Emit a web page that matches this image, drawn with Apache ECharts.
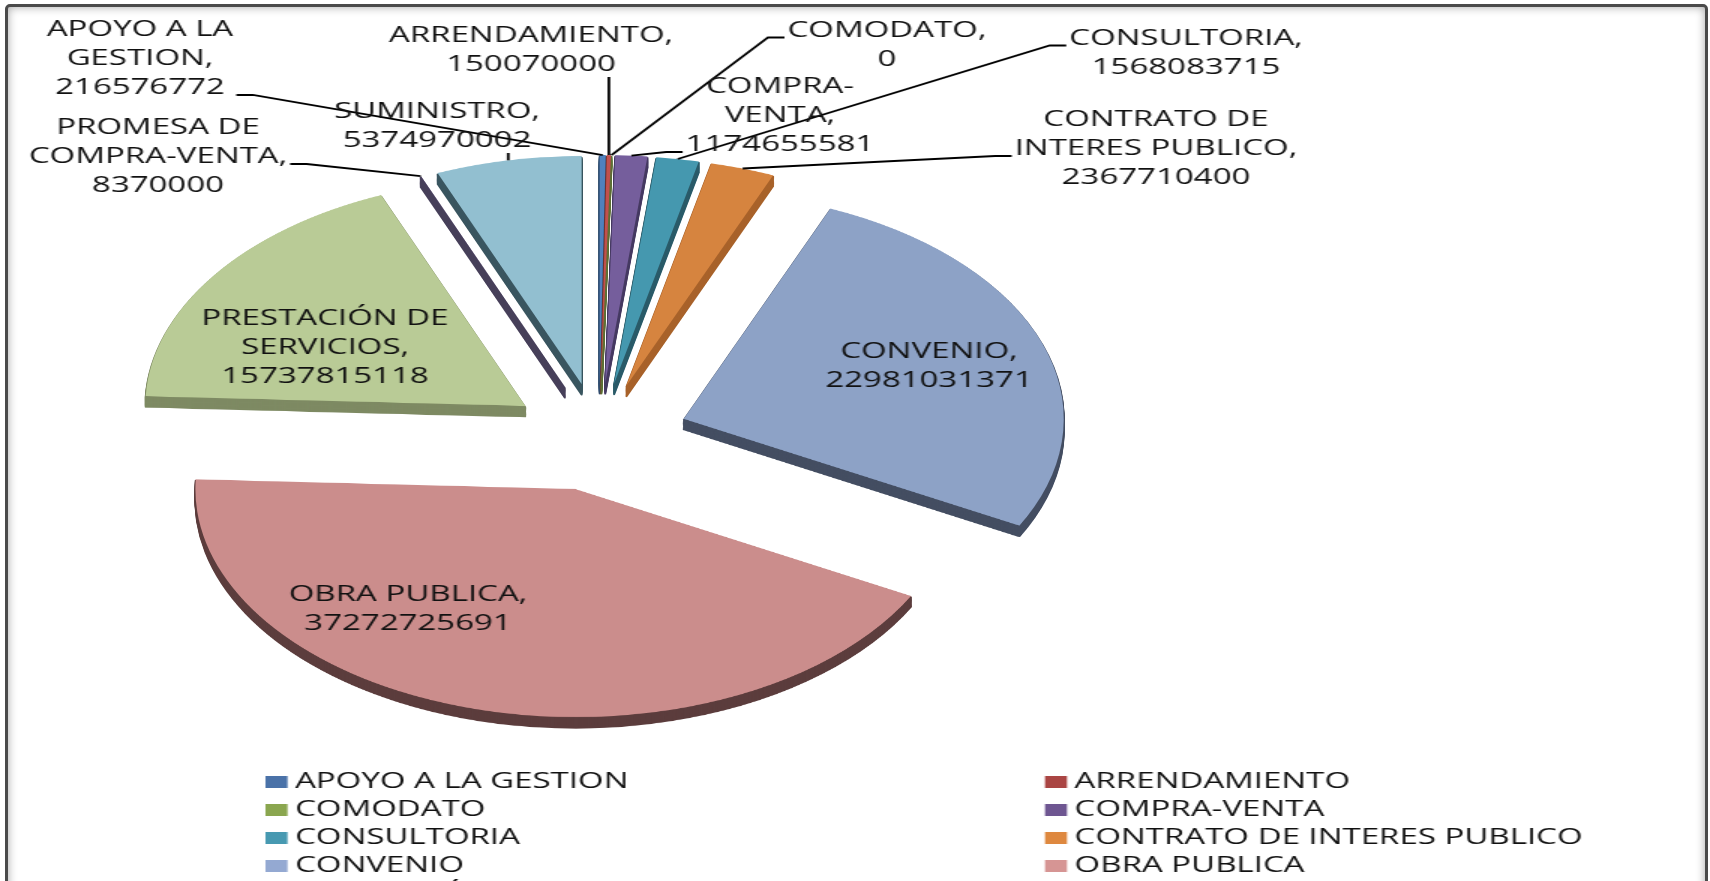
<!DOCTYPE html>
<html><head><meta charset="utf-8">
<script src="https://cdn.jsdelivr.net/npm/echarts@6/dist/echarts.min.js"></script>
<style>
html,body{margin:0;padding:0;width:1710px;height:881px;overflow:hidden;background:#fff;}
#frame{position:absolute;left:5px;top:4px;width:1703px;height:920px;border:3px solid #4a4a4a;border-radius:5px;box-sizing:border-box;box-shadow:inset 0 0 10px rgba(0,0,0,0.35);}
#pie{position:absolute;left:0;top:-113px;width:1710px;height:1100px;transform:scaleY(0.6);transform-origin:50% 50%;}
#labels{position:absolute;left:0;top:0;width:1140px;height:881px;transform:scaleX(1.5);transform-origin:0 0;}
</style></head><body>
<div id="frame"></div><div id="pie"></div><div id="labels"></div>
<script>
// ---- data ----
const categories = ['APOYO A LA GESTION','ARRENDAMIENTO','COMODATO','COMPRA-VENTA','CONSULTORIA','CONTRATO DE INTERES PUBLICO','CONVENIO','OBRA PUBLICA','PRESTACIÓN DE SERVICIOS','PROMESA DE COMPRA-VENTA','SUMINISTRO'];
const values = [216576772,150070000,0,1174655581,1568083715,2367710400,22981031371,37272725691,15737815118,8370000,5374970002];
const labelNames = ['APOYO A LA\nGESTION','ARRENDAMIENTO','COMODATO','COMPRA-\nVENTA','CONSULTORIA','CONTRATO DE\nINTERES PUBLICO','CONVENIO','OBRA PUBLICA','PRESTACIÓN DE\nSERVICIOS','PROMESA DE\nCOMPRA-VENTA','SUMINISTRO'];

// ---- styles ----
const topColors  = ['#4F81BD','#C0504D','#9BBB59','#755E9C','#4598AF','#D6843F','#8DA2C6','#CB8D8C','#B9CB96','#5F4B7A','#92BFD0'];
const sideColors = ['#2F4D71','#73302E','#5D7035','#463A62','#2A5B69','#A8622A','#444E62','#5C3D3D','#7E8A63','#47405A','#3A5660'];
const legendColors = ['#4A72A8','#AA4543','#8AA64F','#6E5691','#4799B1','#DE883F','#94A9D2','#D69594','#B9CD96','#5F4B7A','#92C3D3'];
const FONT = 'Open Sans';
const SX = 1.5;                       // horizontal stretch of the text layer
const GEO = {cx:599, cy:437, r:380, off:90, k:0.6};   // page geometry of the tilted pie
const labelSpots = {
  'APOYO A LA GESTION': {at:[140,59], side:'R', row:3},
  'ARRENDAMIENTO': {at:[531,50], side:'B'},
  'COMODATO': {at:[887,45], side:'L', row:1},
  'COMPRA-VENTA': {at:[780,116], side:'L', row:3},
  'CONSULTORIA': {at:[1186,53], side:'L', row:1},
  'CONTRATO DE INTERES PUBLICO': {at:[1156,149], side:'L', row:2},
  'CONVENIO': {at:[929,366], side:'in'},
  'OBRA PUBLICA': {at:[408,609], side:'in'},
  'PRESTACIÓN DE SERVICIOS': {at:[325,348], side:'in'},
  'PROMESA DE COMPRA-VENTA': {at:[158,157], side:'R', row:2},
  'SUMINISTRO': {at:[437,126], side:'B'}
};

// ---- tilted pie (drawn in a vertically squashed layer) ----
const pieChart = echarts.init(document.getElementById('pie'));
const PC = {cx:599, cy:550};
const depthSteps = 9, stepPx = 2;
const pieSeries = [];
function pieData(colors, border){
  return categories.map((n,i)=>({name:n, value:values[i], selected:true,
    itemStyle:{color:colors[i], borderColor:colors[i], borderWidth:border}}));
}
for (let j = depthSteps; j >= 1; j--) {
  pieSeries.push({type:'pie', center:[PC.cx, PC.cy + j*stepPx], radius:GEO.r, startAngle:90, clockwise:true,
    selectedMode:'multiple', selectedOffset:GEO.off, silent:true, animation:false, avoidLabelOverlap:false,
    label:{show:false}, labelLine:{show:false}, emphasis:{disabled:true},
    data:pieData(sideColors, 2)});
}
pieSeries.push({type:'pie', center:[PC.cx, PC.cy], radius:GEO.r, startAngle:90, clockwise:true,
  selectedMode:'multiple', selectedOffset:GEO.off, silent:true, animation:false, avoidLabelOverlap:false,
  label:{show:false}, labelLine:{show:false}, emphasis:{disabled:true},
  data:pieData(topColors, 0)});
pieChart.setOption({animation:false, series:pieSeries});

// ---- labels + legend (drawn in a horizontally stretched layer) ----
const labelChart = echarts.init(document.getElementById('labels'));
const LC = [GEO.cx/SX, GEO.cy];
const LH = 29;
function midDir(i){
  const total = values.reduce((a,b)=>a+b,0);
  let acc = 0; for (let j=0;j<i;j++) acc += values[j];
  const a = (acc + values[i]/2)/total*2*Math.PI;
  return [Math.sin(a), -Math.cos(a)];
}
function layoutFn(params){
  const i = params.dataIndex;
  const spot = labelSpots[categories[i]];
  if (!spot) return {};
  const w = params.labelRect.width, h = params.labelRect.height;
  const X = spot.at[0]/SX, Y = spot.at[1];
  const res = {x:X, y:Y, align:'center', verticalAlign:'middle'};
  if (spot.side === 'in') return res;
  let u;
  const pts = params.labelLinePoints;
  if (pts && pts.length) {
    const dx = pts[0][0]-LC[0], dy = pts[0][1]-LC[1];
    const d = Math.hypot(dx,dy) || 1; u = [dx/d, dy/d];
  } else u = midDir(i);
  const rr = GEO.r + GEO.off;
  const p0 = [(GEO.cx + rr*u[0])/SX, GEO.cy + GEO.k*rr*u[1]];
  if (spot.side === 'B') {
    const yb = Y + h/2 - 2;
    res.labelLinePoints = [p0, [p0[0], (p0[1]+yb)/2], [p0[0], yb]];
  } else {
    const rowY = Y - h/2 + (spot.row-0.5)*LH + 7;
    const ax = spot.side === 'L' ? X - w/2 - 2 : X + w/2 + 2;
    const ex = spot.side === 'L' ? ax - 11 : ax + 11;
    res.labelLinePoints = [p0, [ex, rowY], [ax, rowY]];
  }
  return res;
}
labelChart.setOption({
  animation:false,
  legend:{
    left:258/SX, top:766, width:1060, orient:'horizontal', icon:'rect',
    itemWidth:22/SX, itemHeight:12, itemGap:6, selectedMode:false,
    textStyle:{fontFamily:FONT, fontSize:22, lineHeight:19, width:494, color:'#111'},
    data:categories.map((n,i)=>({name:n, itemStyle:{color:legendColors[i], opacity:1}}))
  },
  series:[{
    type:'pie', center:LC, radius:150, startAngle:90, clockwise:true, silent:true, animation:false,
    avoidLabelOverlap:false, itemStyle:{color:'rgba(0,0,0,0)'}, emphasis:{disabled:true},
    label:{show:true, position:'outside', fontFamily:FONT, fontSize:22, lineHeight:LH, color:'#111',
      formatter:p => labelNames[p.dataIndex] + ',\n' + p.value},
    labelLine:{show:true, length:8, length2:8, lineStyle:{color:'#000', width:1.8}},
    labelLayout:layoutFn,
    data:categories.map((n,i)=>({name:n, value:values[i],
      labelLine:{show: labelSpots[n].side !== 'in'}}))
  }]
});
</script>
</body></html>
